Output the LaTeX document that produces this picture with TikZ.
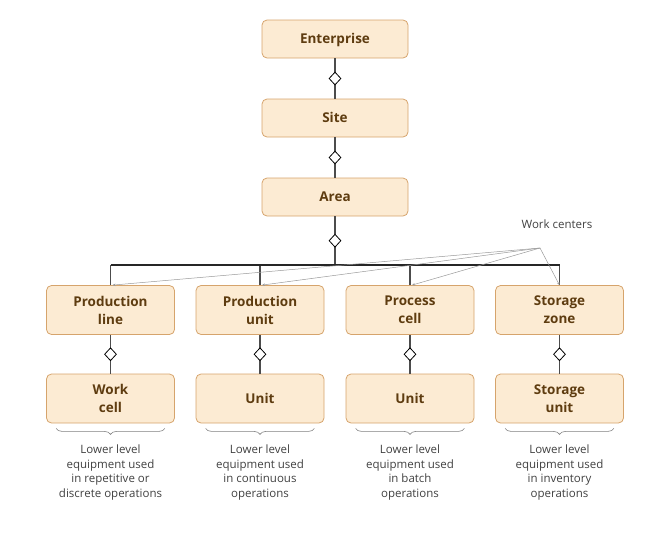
\documentclass[tikz,border=0pt]{standalone}
\usepackage{fontspec}
\setmainfont{Open Sans}
\usetikzlibrary{shapes.geometric,decorations.pathreplacing,arrows.meta}
\definecolor{boxfill}{HTML}{FCEBD3}
\definecolor{boxline}{HTML}{D6A46C}
\definecolor{boxtext}{HTML}{5E3C10}
\definecolor{notetext}{HTML}{404040}

\begin{document}
\begin{tikzpicture}[x=1pt, y=-1pt,
    level/.style={draw=boxline, fill=boxfill, rounded corners=5pt, line width=0.8pt,
      minimum width=146pt, minimum height=38pt, align=center, text=boxtext,
      font=\fontsize{13.5}{18}\selectfont\bfseries},
    oneline/.style={text height=9.6pt, text depth=0pt},
    sublevel/.style={level, minimum width=128pt, minimum height=49pt},
    agg/.style={diamond, draw=black, fill=white, inner sep=0pt, line width=0.8pt,
      minimum width=12pt, minimum height=13pt},
    link/.style={draw=black!70, line width=1.2pt},
    bus/.style={draw=black!85, line width=2pt},
    pointer/.style={draw=black!40, line width=0.5pt, -{Stealth[length=3pt,width=2.5pt]}},
    note/.style={text=notetext, align=center, font=\fontsize{11.5}{14.8}\selectfont},
    grp/.style={draw=black!50, line width=0.6pt, decorate,
      decoration={brace, mirror, amplitude=6pt}}]
  \useasboundingbox (0,0) rectangle (670,536);

  \node[level, oneline] (ent) at (335,39) {Enterprise};
  \node[level, oneline] (site) at (335,118) {Site};
  \node[level, oneline] (area) at (335,197) {Area};
  \draw[link] (ent) -- node[agg] {} (site);
  \draw[link] (site) -- node[agg] {} (area);
  \coordinate (hub) at (335,265);
  \draw[link] (area) -- node[agg] {} (hub);

  \node[sublevel] (pl) at (110.5,310) {Production\\line};
  \node[sublevel] (pu) at (260,310) {Production\\unit};
  \node[sublevel] (pc) at (410,310) {Process\\cell};
  \node[sublevel] (sz) at (559.5,310) {Storage\\zone};

  \node[sublevel] (wk) at (110.5,398.5) {Work\\cell};
  \node[sublevel, oneline] (un) at (260,398.5) {Unit};
  \node[sublevel, oneline] (bu) at (410,398.5) {Unit};
  \node[sublevel] (su) at (559.5,398.5) {Storage\\unit};

  \foreach \a/\b in {pl/wk,pu/un,pc/bu,sz/su} {
    \draw[link] (\a.north |- hub) -- (\a.north);
    \draw[link] (\a) -- node[agg] {} (\b);
    \draw[grp] ([xshift=10pt,yshift=-5pt]\b.south west) -- ([xshift=-10pt,yshift=-5pt]\b.south east);
  }
  \draw[bus] (pl.north |- hub) -- (sz.north |- hub);

  \node[note] (wclabel) at (557,224) {Work centers};
  \coordinate (wc) at (540,248);
  \foreach \n in {pl,pu,pc}
    \draw[pointer] (wc) -- ([xshift=2pt]\n.north);
  \draw[pointer] (wc) -- (sz.north);

  \node[note, anchor=north] (d1) at (110.5,441) {Lower level\\equipment used\\in repetitive or\\discrete operations};
  \node[note, anchor=north] (d2) at (260,441) {Lower level\\equipment used\\in continuous\\operations};
  \node[note, anchor=north] (d3) at (410,441) {Lower level\\equipment used\\in batch\\operations};
  \node[note, anchor=north] (d4) at (559.5,441) {Lower level\\equipment used\\in inventory\\operations};
\end{tikzpicture}
\end{document}
